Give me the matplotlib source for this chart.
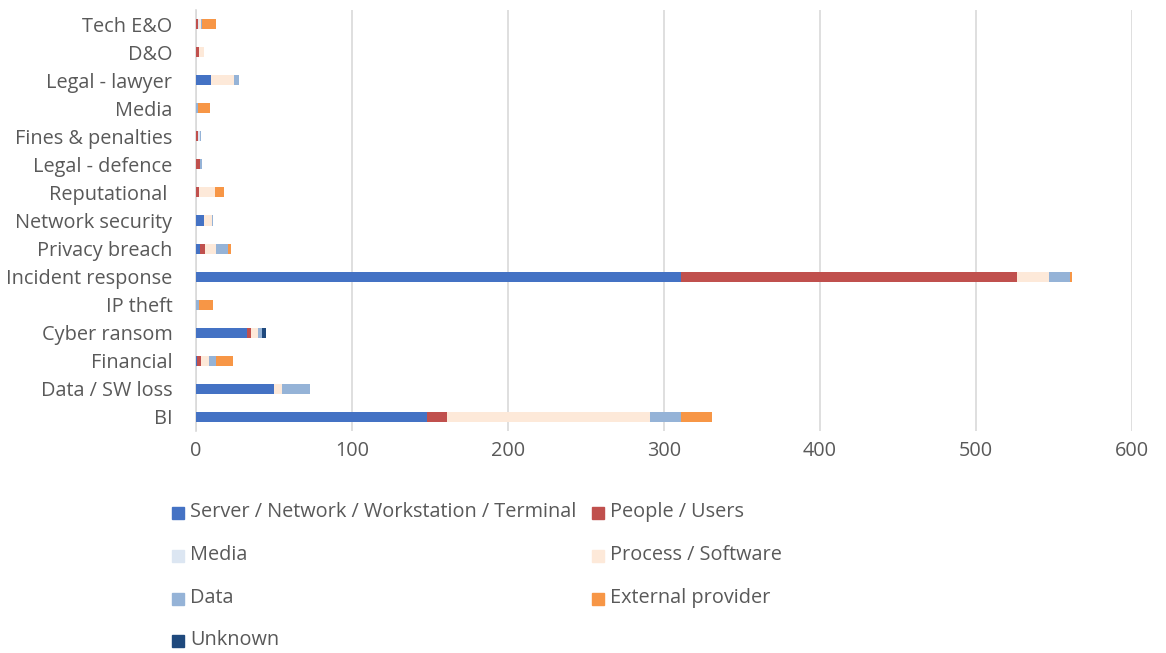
import matplotlib.pyplot as plt
from matplotlib.patches import Rectangle
import numpy as np

plt.rcParams['font.family'] = ['Open Sans', 'DejaVu Sans']

# categories from bottom to top
categories = ['BI', 'Data / SW loss', 'Financial', 'Cyber ransom', 'IP theft',
              'Incident response', 'Privacy breach', 'Network security',
              'Reputational ', 'Legal - defence', 'Fines & penalties', 'Media',
              'Legal - lawyer', 'D&O', 'Tech E&O']

server   = [148, 50, 0.5, 33, 0, 311, 2.5, 5, 0, 0, 0, 0, 9.6, 0, 0]
people   = [13, 0, 3, 2, 0, 215, 3.5, 0, 2, 2.5, 1.5, 0, 0, 2, 1]
media    = [0, 0, 0, 0, 0, 0, 0, 0, 0, 0, 0.8, 0, 0, 0, 1]
process  = [130, 5, 5, 5, 0, 21, 7, 5, 10, 0, 0, 0, 15, 3, 1]
data     = [20, 18, 4, 2, 2, 13, 7.5, 1, 0, 1.5, 1.2, 1, 3, 0, 1]
external = [20, 0, 11, 0, 9, 1.5, 2, 0, 6, 0, 0, 8, 0, 0, 9]
unknown  = [0, 0, 0, 3, 0, 0, 0, 0, 0, 0, 0, 0, 0, 0, 0]

series = [
    ('Server / Network / Workstation / Terminal', server, '#4472C4'),
    ('People / Users', people, '#C0504D'),
    ('Media', media, '#DCE6F2'),
    ('Process / Software', process, '#FDE9D9'),
    ('Data', data, '#95B3D7'),
    ('External provider', external, '#F79646'),
    ('Unknown', unknown, '#1F497D'),
]

text_col = '#595959'
fs = 14.3

fig = plt.figure(figsize=(11.66, 6.53), dpi=100)
ax = fig.add_axes([196/1166, 1 - 431/653, (1132-196)/1166, 421/653])

y = np.arange(len(categories))
left = np.zeros(len(categories))
for name, vals, col in series:
    vals = np.array(vals, dtype=float)
    ax.barh(y, vals, left=left, height=0.36, color=col, label=name, zorder=3)
    left += vals

ax.set_xlim(0, 600)
ax.set_ylim(-0.5, len(categories) - 0.5)
ax.set_xticks(range(0, 601, 100))
ax.set_yticks(y)
ax.set_yticklabels(categories)
ax.grid(axis='x', color='#D9D9D9', linewidth=1.2, zorder=0)
for s in ['top', 'right', 'bottom']:
    ax.spines[s].set_visible(False)
ax.spines['left'].set_color('#D9D9D9')
ax.spines['left'].set_linewidth(1.2)
ax.tick_params(axis='y', length=0, pad=17, labelsize=fs, labelcolor=text_col)
ax.tick_params(axis='x', length=0, pad=7, labelsize=fs, labelcolor=text_col)

# legend: two columns, filled row by row
legend_pos = [(172, 512), (592, 512), (172, 555), (592, 555),
              (172, 598), (592, 598), (172, 640)]
for (name, vals, col), (px, py) in zip(series, legend_pos):
    fig.patches.append(Rectangle((px / 1166, 1 - (py + 7) / 653), 12 / 1166, 12 / 653,
                                 transform=fig.transFigure, color=col))
    fig.text((px + 18) / 1166, 1 - py / 653, name, fontsize=fs, color=text_col,
             va='center', ha='left')

fig.savefig('out.png', dpi=100)
